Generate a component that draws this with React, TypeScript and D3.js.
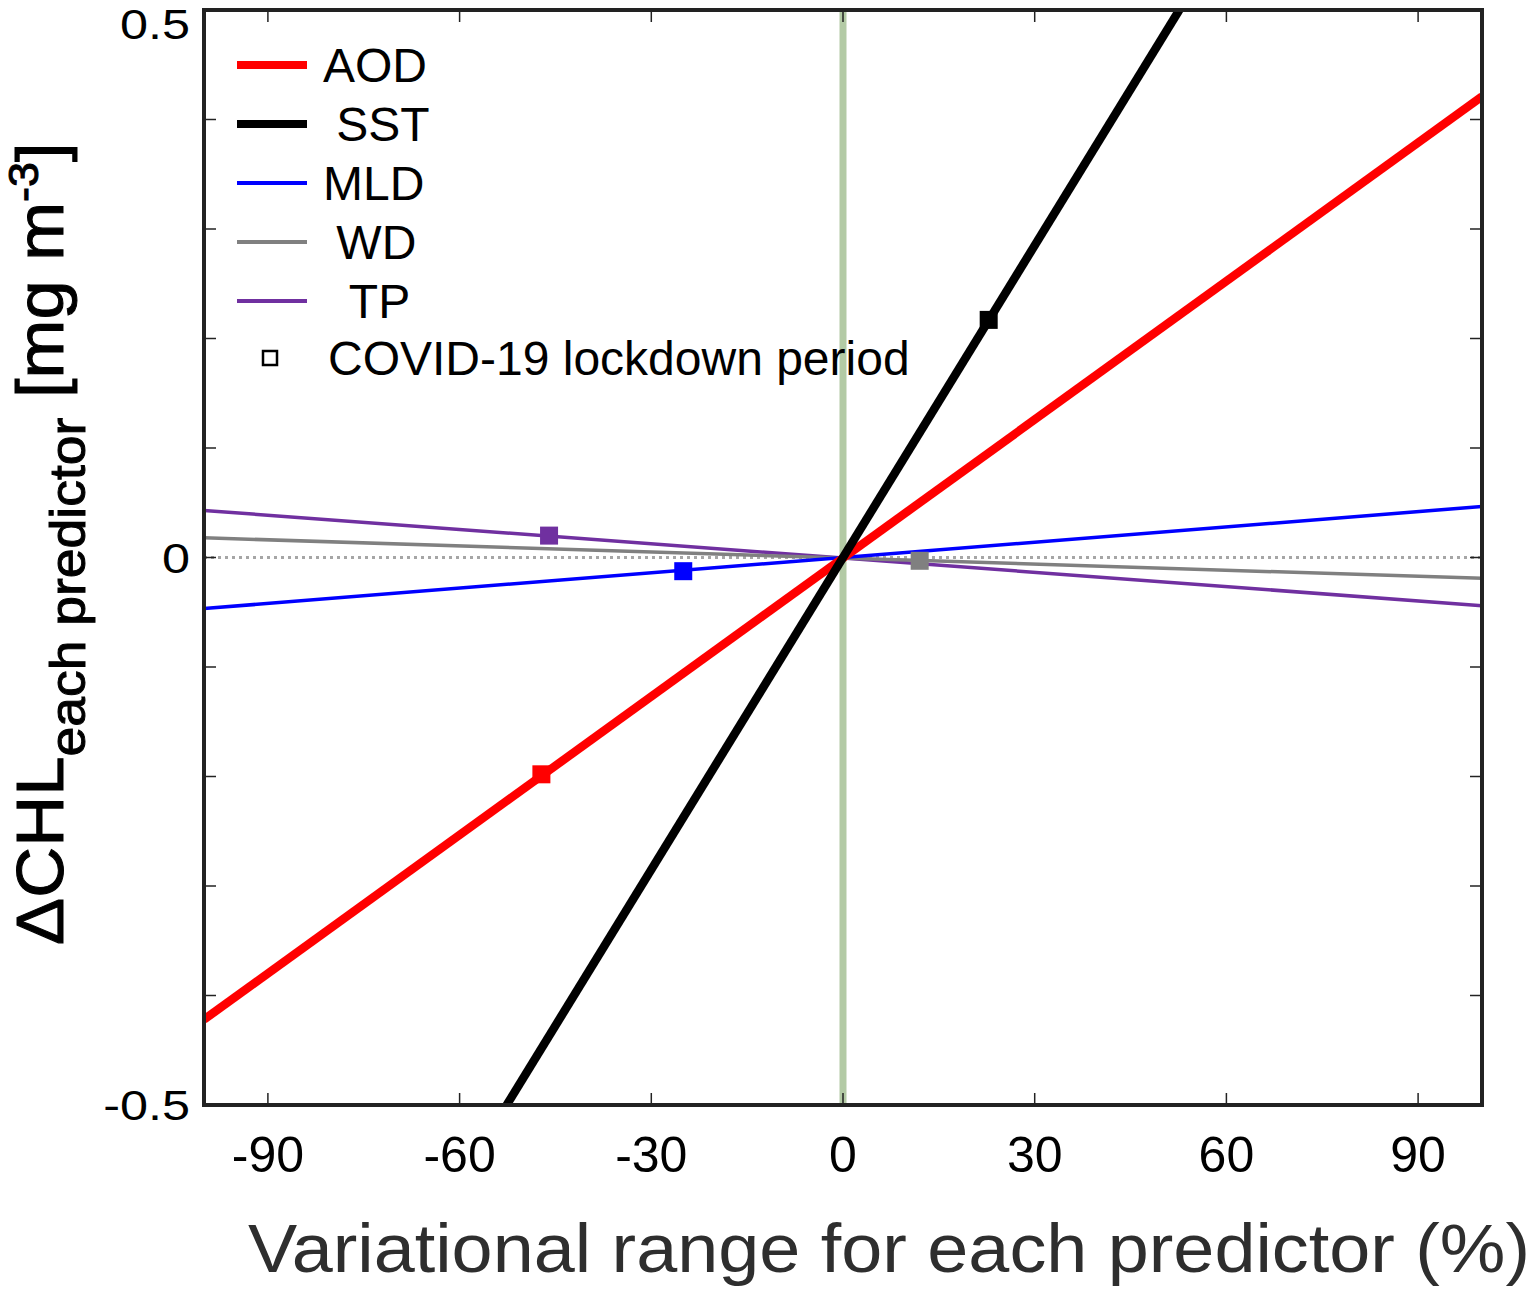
import React from "react";
import * as d3 from "d3";

// Series: values of ΔCHL at the two ends of the variational range
const xEnds = [-100, 100];
const aodValues = [-0.422, 0.421];
const sstValues = [-0.95, 0.95];
const mldValues = [-0.0466, 0.0466];
const wdValues = [0.018, -0.019];
const tpValues = [0.043, -0.044];

// COVID-19 lockdown period points [x, y]
const aodLockdown = [-47.2, -0.198];
const sstLockdown = [22.8, 0.217];
const mldLockdown = [-25.0, -0.0125];
const wdLockdown = [12.0, -0.003];
const tpLockdown = [-46.0, 0.02];

const xTicks = [-90, -60, -30, 0, 30, 60, 90];
const yTicks = [-0.5, -0.4, -0.3, -0.2, -0.1, 0, 0.1, 0.2, 0.3, 0.4, 0.5];
const yTickLabels = [-0.5, 0, 0.5];

const seriesNames = ["AOD", "SST", "MLD", "WD", "TP"];
const seriesLabels = ["AOD", " SST", "MLD", " WD", "  TP"];
const seriesColors = ["#ff0000", "#000000", "#0000ff", "#808080", "#7030a0"];
const seriesWidths = [8.5, 8.5, 3.5, 3.5, 3.5];

export default function App() {
  const W = 1535, H = 1290;
  const L = 204, R = 1482, T = 10, B = 1105;
  const x = d3.scaleLinear().domain([-100, 100]).range([L, R]);
  const y = d3.scaleLinear().domain([-0.5, 0.5]).range([B, T]);
  const line = d3.line<[number, number]>().x(d => x(d[0])).y(d => y(d[1]));

  const series = [aodValues, sstValues, mldValues, wdValues, tpValues];
  const lockdowns = [aodLockdown, sstLockdown, mldLockdown, wdLockdown, tpLockdown];
  const font = "Liberation Sans, Arial, sans-serif";
  const order = [4, 3, 2, 0, 1];

  return (
    <div style={{ position: "absolute", left: 0, top: 0 }}>
      <svg width={W} height={H} style={{ display: "block", background: "#fff" }} fontFamily={font}>
        <defs>
          <clipPath id="plot">
            <rect x={L} y={T} width={R - L} height={B - T} />
          </clipPath>
        </defs>
        {/* zero dotted line */}
        <line x1={L} x2={R} y1={y(0)} y2={y(0)} stroke="#a6a6a6" strokeWidth={3} strokeDasharray="3,4" />
        {/* vertical green line */}
        <line x1={x(0)} x2={x(0)} y1={T} y2={B} stroke="#b3caa5" strokeWidth={7} />
        <g clipPath="url(#plot)">
          {order.map(i => (
            <path key={seriesNames[i]} d={line(xEnds.map((xv, k) => [xv, series[i][k]]) as [number, number][]) || ""}
              fill="none" stroke={seriesColors[i]} strokeWidth={seriesWidths[i]} />
          ))}
          {order.map(i => (
            <rect key={"m" + seriesNames[i]} x={x(lockdowns[i][0]) - 9} y={y(lockdowns[i][1]) - 9} width={18} height={18}
              fill={seriesColors[i]} />
          ))}
        </g>
        {/* ticks */}
        {xTicks.map(t => (
          <g key={"xt" + t}>
            <line x1={x(t)} x2={x(t)} y1={B} y2={B - 12} stroke="#222" strokeWidth={1.5} />
            <line x1={x(t)} x2={x(t)} y1={T} y2={T + 12} stroke="#222" strokeWidth={1.5} />
            <text x={x(t)} y={1172} textAnchor="middle" fontSize={50} fill="#000">{t}</text>
          </g>
        ))}
        {yTicks.map(t => (
          <g key={"yt" + t}>
            <line x1={L} x2={L + 12} y1={y(t)} y2={y(t)} stroke="#222" strokeWidth={1.5} />
            <line x1={R} x2={R - 12} y1={y(t)} y2={y(t)} stroke="#222" strokeWidth={1.5} />
          </g>
        ))}
        {yTickLabels.map(t => (
          <text key={"yl" + t} transform={`translate(190,${Math.max(y(t), 24) + 15}) scale(1.2,1)`} textAnchor="end" fontSize={42} fill="#000">{t}</text>
        ))}
        {/* frame */}
        <rect x={L} y={T} width={R - L} height={B - T} fill="none" stroke="#222" strokeWidth={4} />
        {/* legend */}
        {seriesNames.map((n, i) => (
          <g key={"lg" + n}>
            <line x1={237} x2={307} y1={65 + i * 59} y2={65 + i * 59} stroke={seriesColors[i]} strokeWidth={seriesWidths[i] > 5 ? 8 : 4} />
            <text x={323} y={65 + i * 59 + 17} fontSize={48} fill="#000" style={{ whiteSpace: "pre" }}>{seriesLabels[i]}</text>
          </g>
        ))}
        <rect x={263} y={351} width={14} height={14} fill="none" stroke="#000" strokeWidth={2.5} />
        <text x={328} y={375} fontSize={48} fill="#000">COVID-19 lockdown period</text>
        {/* axis titles */}
        <text x={248} y={1272} fontSize={68} fill="#2e2e2e" textLength={1282} lengthAdjust="spacingAndGlyphs">Variational range for each predictor (%)</text>
        <text transform="translate(63,945) rotate(-90) scale(1.07,1)" fontSize={66} fill="#000" stroke="#000" strokeWidth={1}>
          <tspan>ΔCHL</tspan>
          <tspan fontSize={50} dy={22}>each predictor</tspan>
          <tspan fontSize={66} dy={-22}> [mg m</tspan>
          <tspan fontSize={42} dy={-25}>-3</tspan>
          <tspan fontSize={66} dy={25}>]</tspan>
        </text>
      </svg>
    </div>
  );
}
